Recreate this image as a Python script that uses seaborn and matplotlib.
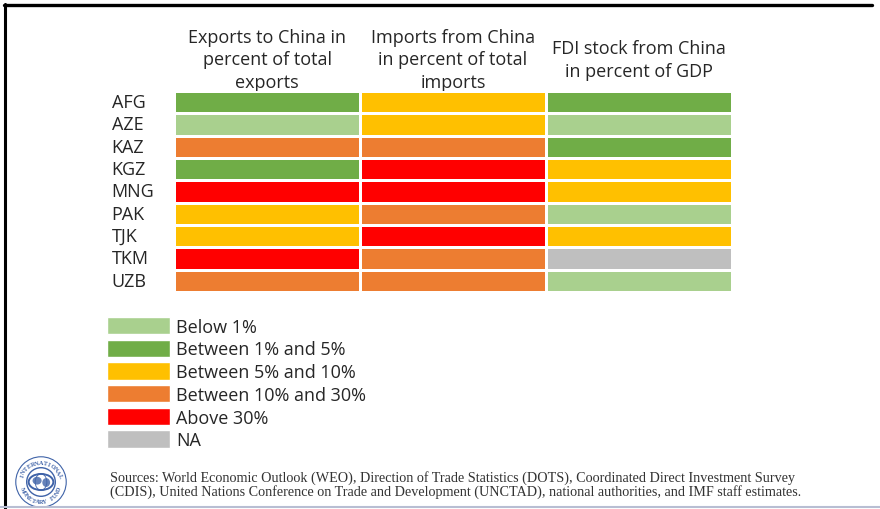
import numpy as np
import pandas as pd
import seaborn as sns
import matplotlib.pyplot as plt
from matplotlib.colors import ListedColormap
from matplotlib.patches import Patch, Circle, Ellipse
from matplotlib.lines import Line2D

countries = ["AFG", "AZE", "KAZ", "KGZ", "MNG", "PAK", "TJK", "TKM", "UZB"]
columns = [
    "Exports to China in\npercent of total\nexports",
    "Imports from China\nin percent of total\nimports",
    "FDI stock from China\nin percent of GDP",
]
categories = ["Below 1%", "Between 1% and 5%", "Between 5% and 10%",
              "Between 10% and 30%", "Above 30%", "NA"]
category_colors = ["#A9D08E", "#70AD47", "#FFC000", "#ED7D31", "#FF0000", "#BFBFBF"]

exports_band = ["Between 1% and 5%", "Below 1%", "Between 10% and 30%",
                "Between 1% and 5%", "Above 30%", "Between 5% and 10%",
                "Between 5% and 10%", "Above 30%", "Between 10% and 30%"]
imports_band = ["Between 5% and 10%", "Between 5% and 10%", "Between 10% and 30%",
                "Above 30%", "Above 30%", "Between 10% and 30%",
                "Above 30%", "Between 10% and 30%", "Between 10% and 30%"]
fdi_band = ["Between 1% and 5%", "Below 1%", "Between 1% and 5%",
            "Between 5% and 10%", "Between 5% and 10%", "Below 1%",
            "Between 5% and 10%", "NA", "Below 1%"]

sources = ("Sources: World Economic Outlook (WEO), Direction of Trade Statistics (DOTS), "
           "Coordinated Direct Investment Survey\n(CDIS), United Nations Conference on Trade "
           "and Development (UNCTAD), national authorities, and IMF staff estimates.")

sns.set_theme(style="white")
plt.rcParams["font.family"] = ["Open Sans", "DejaVu Sans"]

code = {c: i for i, c in enumerate(categories)}
grid = pd.DataFrame(
    {col: [code[v] for v in band]
     for col, band in zip(columns, [exports_band, imports_band, fdi_band])},
    index=countries,
)

W, H = 880, 510
fig = plt.figure(figsize=(W / 100, H / 100), dpi=100)
fig.patch.set_facecolor("white")

def fx(px):
    return px / W

def fy(py):
    return 1 - py / H

ax = fig.add_axes([fx(174), fy(293), fx(732) - fx(174), fy(92) - fy(293)])
sns.heatmap(grid, ax=ax, cmap=ListedColormap(category_colors), vmin=-0.5, vmax=5.5,
            cbar=False, linewidths=2, linecolor="white")

text_color = "#262626"
label_size = 13.0
ax.tick_params(axis="both", length=0)
ax.xaxis.tick_top()
ax.set_xticklabels(columns, fontsize=label_size, color=text_color, linespacing=1.33)
ax.tick_params(axis="x", pad=22.8)
for lab in ax.get_xticklabels():
    lab.set_va("center")
    lab.set_ha("center")
    lab.set_multialignment("center")
ax.set_yticklabels(countries, rotation=0, fontsize=label_size, color=text_color)
ax.tick_params(axis="y", pad=45)
for lab in ax.get_yticklabels():
    lab.set_ha("left")
ax.set_xlabel("")
ax.set_ylabel("")

handles = [Patch(facecolor=c, edgecolor="white", linewidth=1) for c in category_colors]
fig.legend(handles, categories, loc="upper left", bbox_to_anchor=(fx(107), fy(318)),
           frameon=False, fontsize=label_size, handlelength=3.5, handleheight=1.1,
           labelspacing=0.215, handletextpad=0.33, borderpad=0, borderaxespad=0,
           labelcolor=text_color)

fig.text(fx(110), fy(485), sources, fontsize=10.15, family="Liberation Serif",
         color="#333333", va="center", ha="left", linespacing=1.05)

# IMF seal
seal = fig.add_axes([fx(13), fy(509), fx(56), fy(457) - fy(509)])
seal.set_xlim(-1, 1)
seal.set_ylim(-1, 1)
seal.set_aspect("equal")
seal.axis("off")
blue = "#3F63A8"
seal.add_patch(Circle((0, 0), 0.97, fill=False, ec=blue, lw=0.8))
seal.add_patch(Circle((0, 0), 0.55, fill=False, ec=blue, lw=1.0))
seal.add_patch(Ellipse((0, 0), 0.95, 0.62, fill=True, fc="white", ec=blue, lw=1.4))
seal.add_patch(Ellipse((-0.15, 0.05), 0.35, 0.3, fc=blue, ec="none", alpha=0.8))
seal.add_patch(Ellipse((0.2, -0.02), 0.3, 0.34, fc=blue, ec="none", alpha=0.8))
seal.add_patch(Ellipse((0, 0), 0.45, 0.62, fill=False, ec=blue, lw=0.6))

for ch, a in zip("INTERNATIONAL", np.linspace(160, 20, 13)):
    t = np.deg2rad(a)
    seal.text(0.76 * np.cos(t), 0.76 * np.sin(t), ch, fontsize=4.4,
              family="Liberation Serif", weight="bold", color=blue,
              ha="center", va="center", rotation=a - 90)
for ch, a in zip("MONETARY FUND", np.linspace(200, 340, 13)):
    t = np.deg2rad(a)
    seal.text(0.76 * np.cos(t), 0.76 * np.sin(t), ch, fontsize=4.4,
              family="Liberation Serif", weight="bold", color=blue,
              ha="center", va="center", rotation=a + 90)

# page frame
fig.add_artist(Line2D([fx(4.5), fx(4.5)], [fy(5), fy(510)], color="black", lw=2.2))
fig.add_artist(Line2D([fx(4), fx(872)], [fy(6), fy(6)], color="black", lw=2.4))
fig.add_artist(Line2D([0, 1], [fy(508), fy(508)], color="#B8BED3", lw=1.5))

fig.savefig("out.png", dpi=100, facecolor="white")
